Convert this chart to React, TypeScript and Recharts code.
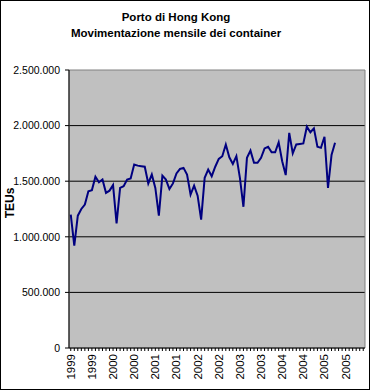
import { CartesianGrid, Line, LineChart, ReferenceArea, XAxis, YAxis } from "recharts";

const FONT = '"Liberation Sans", Arial, sans-serif';
const LINE_COLOR = "#000080";
const PLOT_FILL = "#C0C0C0";

const YEARS = ["1999", "2000", "2001", "2002", "2003", "2004", "2005"];
const MONTHS = ["gen", "feb", "mar", "apr", "mag", "giu", "lug", "ago", "set", "ott", "nov", "dic"];

// TEU mensili
const TEU_1999 = [1200000, 920000, 1190000, 1250000, 1290000, 1410000, 1420000, 1540000, 1490000, 1515000, 1395000, 1415000];
const TEU_2000 = [1465000, 1120000, 1440000, 1455000, 1515000, 1525000, 1650000, 1640000, 1635000, 1630000, 1480000, 1560000];
const TEU_2001 = [1440000, 1190000, 1550000, 1515000, 1430000, 1480000, 1570000, 1610000, 1620000, 1560000, 1380000, 1460000];
const TEU_2002 = [1370000, 1155000, 1530000, 1605000, 1545000, 1630000, 1700000, 1725000, 1830000, 1715000, 1655000, 1725000];
const TEU_2003 = [1530000, 1270000, 1710000, 1775000, 1665000, 1665000, 1710000, 1795000, 1810000, 1760000, 1760000, 1850000];
const TEU_2004 = [1680000, 1555000, 1935000, 1750000, 1830000, 1835000, 1840000, 1990000, 1940000, 1975000, 1810000, 1800000];
const TEU_2005 = [1900000, 1440000, 1735000, 1845000];

const TEU_BY_YEAR = [TEU_1999, TEU_2000, TEU_2001, TEU_2002, TEU_2003, TEU_2004, TEU_2005];

const Y_TICKS = [0, 500000, 1000000, 1500000, 2000000, 2500000];
const GRID_VALUES = [500000, 1000000, 1500000, 2000000];

type Row = { month: string; teu: number | null };

const data: Row[] = YEARS.flatMap((year, yi) =>
  MONTHS.map((m, mi) => ({
    month: `${m} ${year}`,
    teu: TEU_BY_YEAR[yi][mi] ?? null,
  }))
);

const formatThousands = (v: number) =>
  String(v).replace(/\B(?=(\d{3})+(?!\d))/g, ".");

function YearTick(props: any) {
  const { x, y, payload, index } = props;
  if (index % 6 !== 0) return <g />;
  const year = String(payload.value).slice(-4);
  const tx = x + 4;
  const ty = y + 1;
  return (
    <text
      x={tx}
      y={ty}
      transform={`rotate(-90, ${tx}, ${ty})`}
      textAnchor="end"
      fontFamily={FONT}
      fontSize={11.5}
      fill="#000"
    >
      {year}
    </text>
  );
}

function AxisTitle() {
  const tx = 13.5;
  const ty = 203;
  return (
    <text
      x={tx}
      y={ty}
      transform={`rotate(-90, ${tx}, ${ty})`}
      textAnchor="middle"
      fontFamily={FONT}
      fontSize={12}
      fontWeight="bold"
      fill="#000"
    >
      TEUs
    </text>
  );
}

export default function App() {
  return (
    <div style={{ position: "relative", width: 371, height: 391, background: "#fff" }}>
      <style>{"body{margin:0}"}</style>
      <LineChart
        width={371}
        height={391}
        data={data}
        margin={{ top: 70, right: 6, bottom: 0, left: 0 }}
      >
        <CartesianGrid
          fill={PLOT_FILL}
          fillOpacity={1}
          stroke="#000"
          strokeWidth={1}
          vertical={false}
          horizontalValues={GRID_VALUES}
        />
        <ReferenceArea
          y1={0}
          y2={2500000}
          fill="none"
          stroke="#808080"
          strokeWidth={1}
        />
        <XAxis
          dataKey="month"
          scale="band"
          interval={0}
          height={43}
          stroke="#000"
          tickSize={3}
          tick={<YearTick />}
        />
        <YAxis
          domain={[0, 2500000]}
          ticks={Y_TICKS}
          width={69}
          stroke="#000"
          tickSize={4}
          tickMargin={5}
          tickFormatter={formatThousands}
          tick={{ fontSize: 10.5, fontFamily: FONT, fill: "#000" }}
          label={<AxisTitle />}
        />
        <Line
          type="linear"
          dataKey="teu"
          stroke={LINE_COLOR}
          strokeWidth={2}
          dot={false}
          connectNulls={false}
          isAnimationActive={false}
        />
      </LineChart>
      <div
        style={{
          position: "absolute",
          left: 0,
          top: 9,
          width: 352,
          textAlign: "center",
          fontFamily: FONT,
          fontWeight: "bold",
          fontSize: 11.5,
          lineHeight: "16px",
          color: "#000",
        }}
      >
        Porto di Hong Kong
        <br />
        Movimentazione mensile dei container
      </div>
      <div
        style={{
          position: "absolute",
          left: 0,
          top: 0,
          width: 370,
          height: 390,
          border: "1px solid #000",
          boxSizing: "border-box",
          pointerEvents: "none",
        }}
      />
    </div>
  );
}
